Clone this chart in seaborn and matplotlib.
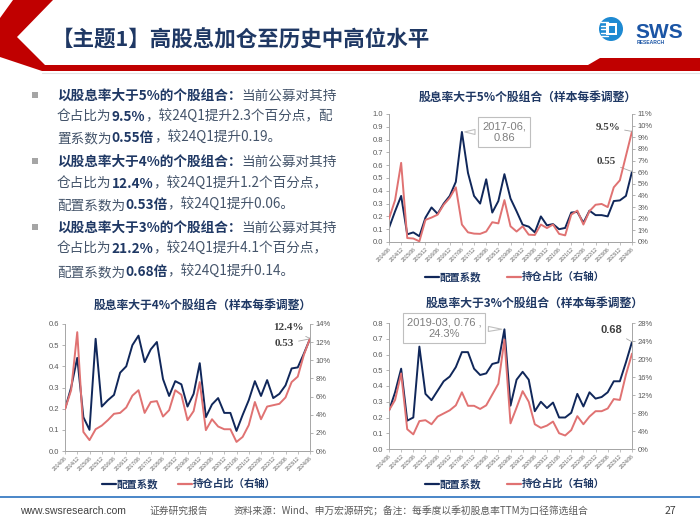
import numpy as np
import matplotlib
matplotlib.use("Agg")
import matplotlib.pyplot as plt
import seaborn as sns
from matplotlib.patches import Polygon, Rectangle, Circle
from matplotlib.ticker import FuncFormatter

sns.set_style("ticks")
CJK = ['Noto Sans CJK SC', 'DejaVu Sans']
plt.rcParams['font.family'] = CJK
plt.rcParams['axes.unicode_minus'] = False

# ---------------- data ----------------
tick_labels = ["2014/06", "2014/12", "2015/06", "2015/12", "2016/06", "2016/12",
               "2017/06", "2017/12", "2018/06", "2018/12", "2019/06", "2019/12",
               "2020/06", "2020/12", "2021/06", "2021/12", "2022/06", "2022/12",
               "2023/06", "2023/12", "2024/06"]

# dividend yield > 5% portfolio
coef5 = [0.11, 0.24, 0.36, 0.06, 0.075, 0.045, 0.19, 0.27, 0.22, 0.30, 0.36, 0.47, 0.86,
         0.54, 0.36, 0.30, 0.49, 0.23, 0.32, 0.53, 0.34, 0.24, 0.135, 0.12, 0.075, 0.20,
         0.13, 0.14, 0.10, 0.11, 0.23, 0.235, 0.15, 0.245, 0.21, 0.21, 0.20, 0.32, 0.325,
         0.36, 0.55]
share5 = [2.0, 3.6, 6.8, 0.34, 0.3, 0.06, 1.9, 2.1, 2.35, 3.2, 3.8, 4.7, 1.5, 0.83, 0.72,
          0.7, 0.9, 1.7, 1.6, 3.6, 1.35, 0.9, 1.35, 0.63, 0.6, 1.5, 1.2, 1.5, 0.7, 0.57,
          2.35, 2.7, 1.5, 2.65, 3.2, 3.27, 3.0, 4.7, 5.3, 7.4, 9.5]
# dividend yield > 4% portfolio
coef4 = [0.198, 0.30, 0.44, 0.16, 0.10, 0.53, 0.21, 0.24, 0.265, 0.37, 0.40, 0.50, 0.545,
         0.42, 0.48, 0.515, 0.34, 0.26, 0.33, 0.315, 0.21, 0.27, 0.415, 0.16, 0.22, 0.25,
         0.18, 0.18, 0.095, 0.17, 0.24, 0.33, 0.26, 0.335, 0.25, 0.27, 0.31, 0.39, 0.395,
         0.46, 0.53]
share4 = [4.6, 6.7, 13.1, 2.1, 1.2, 2.4, 2.8, 3.4, 4.1, 4.2, 4.8, 6.1, 6.7, 4.2, 5.4, 5.5,
          3.8, 4.5, 6.7, 6.2, 3.4, 4.4, 7.6, 2.3, 3.5, 2.7, 2.4, 2.4, 1.0, 1.55, 2.85, 5.4,
          3.5, 4.9, 5.05, 5.2, 5.9, 7.6, 8.2, 10.6, 12.4]
# dividend yield > 3% portfolio
coef3 = [0.243, 0.36, 0.51, 0.18, 0.20, 0.65, 0.35, 0.31, 0.37, 0.43, 0.46, 0.52, 0.615,
         0.615, 0.51, 0.47, 0.48, 0.54, 0.55, 0.76, 0.275, 0.44, 0.49, 0.44, 0.24, 0.30,
         0.26, 0.295, 0.20, 0.20, 0.23, 0.35, 0.27, 0.36, 0.32, 0.33, 0.36, 0.43, 0.43,
         0.55, 0.68]
share3 = [8.6, 10.9, 16.8, 4.4, 3.25, 6.2, 6.4, 5.5, 7.2, 7.9, 8.6, 9.7, 12.6, 9.6, 9.6,
          8.9, 9.7, 12.1, 14.5, 24.3, 5.7, 9.2, 12.85, 10.5, 5.5, 4.7, 5.2, 6.1, 3.5, 3.0,
          4.2, 7.3, 5.5, 7.2, 8.4, 8.4, 9.0, 11.1, 10.9, 16.5, 21.2]

title_text = "【主题1】高股息加仓至历史中高位水平"
chart_titles = ["股息率大于5%个股组合（样本每季调整）",
                "股息率大于4%个股组合（样本每季调整）",
                "股息率大于3%个股组合（样本每季调整）"]
legend_labels = ["配置系数", "持仓占比（右轴）"]

bullets = [
    [[("以股息率大于5%的个股组合：", True), ("当前公募对其持", False)],
     [("仓占比为", False), ("9.5%", True), ("，较24Q1提升2.3个百分点，配", False)],
     [("置系数为", False), ("0.55倍", True), ("，较24Q1提升0.19。", False)]],
    [[("以股息率大于4%的个股组合：", True), ("当前公募对其持", False)],
     [("仓占比为", False), ("12.4%", True), ("，较24Q1提升1.2个百分点，", False)],
     [("配置系数为", False), ("0.53倍", True), ("，较24Q1提升0.06。", False)]],
    [[("以股息率大于3%的个股组合：", True), ("当前公募对其持", False)],
     [("仓占比为", False), ("21.2%", True), ("，较24Q1提升4.1个百分点，", False)],
     [("配置系数为", False), ("0.68倍", True), ("，较24Q1提升0.14。", False)]],
]
footer_site = "www.swsresearch.com"
footer_kind = "证券研究报告"
footer_src = "资料来源：Wind、申万宏源研究；备注：每季度以季初股息率TTM为口径筛选组合"
page_no = "27"

# ---------------- styles ----------------
W, H = 700, 525
NAVY = '#1F3864'
BODY = '#44546A'
BLUE = '#10275A'
RED = '#E07272'
TICK = '#595959'
SPINE = '#A6A6A6'
DARKRED = '#C00000'

fig = plt.figure(figsize=(7, 5.25), dpi=100)
fig.patch.set_facecolor('white')
bg = fig.add_axes([0, 0, 1, 1], zorder=-10)
bg.set_xlim(0, W)
bg.set_ylim(H, 0)
bg.axis('off')

# header band
bg.add_patch(Polygon([(13, 0), (53, 0), (17, 37), (45, 65), (588, 65), (600, 58),
                      (700, 58), (700, 71), (42, 71), (0, 57), (0, 18)],
                     closed=True, fc=DARKRED, ec='none'))
bg.plot([42, 700], [73, 73], color='#E3E3E3', lw=0.8)
bg.text(52, 47, title_text, fontsize=15.5, fontweight='bold', color=NAVY,
        ha='left', va='baseline', family=CJK)

# logo
bg.add_patch(Circle((611, 29), 12, fc='#1E8AD2', ec='none'))
for yy in (22, 25.5, 29, 32.5, 36):
    bg.plot([601, 608], [yy, yy], color='white', lw=1.0)
bg.add_patch(Rectangle((606, 23), 11, 12, fc='white', ec='none'))
bg.add_patch(Rectangle((608.5, 25.5), 6, 7, fc='#1E8AD2', ec='none'))
bg.text(635, 38, "SWS", fontsize=15, fontweight='bold', color='#1B55A5',
        family=['Liberation Sans'], ha='left', va='baseline')
bg.text(637, 44.5, "RESEARCH", fontsize=3.6, fontweight='bold', color='#1B55A5',
        family=['Liberation Sans'], ha='left', va='baseline')

# bullet text
renderer = fig.canvas.get_renderer()
line_ys = [[95, 116, 137], [161, 183, 204], [227, 248, 271]]
for para, ys in zip(bullets, line_ys):
    bg.add_patch(Rectangle((32, ys[0] - 3), 6, 6, fc='#A5A5A5', ec='none'))
    for parts, yc in zip(para, ys):
        x = 57
        for txt, bold in parts:
            t = bg.text(x, yc + 5, txt, fontsize=9.8,
                        fontweight='bold' if bold else 'normal',
                        color=NAVY if bold else BODY, ha='left', va='baseline',
                        family=CJK)
            x += t.get_window_extent(renderer=renderer).width

# footer
bg.plot([0, 700], [497, 497], color='#3C7DC4', lw=1.3)
bg.text(20, 511, footer_site, fontsize=7.5, color='#404040', va='center', ha='left',
        family=['Liberation Sans', 'DejaVu Sans'])
bg.text(150, 511, footer_kind, fontsize=7, color='#595959', va='center', ha='left', family=CJK)
bg.text(234, 511, footer_src, fontsize=7, color='#595959', va='center', ha='left', family=CJK)
bg.text(665, 511, page_no, fontsize=7.5, color='#404040', va='center', ha='left', family=CJK)


def draw_chart(box, coef, share, lmax, rmax, rstep, title, title_xy, leg_x, leg_y):
    x0, y0, x1, y1 = box
    ax = fig.add_axes([x0 / W, 1 - y1 / H, (x1 - x0) / W, (y1 - y0) / H])
    q = np.arange(len(coef))
    sns.lineplot(x=q, y=coef, ax=ax, color=BLUE, linewidth=1.4)
    axr = ax.twinx()
    sns.lineplot(x=q, y=share, ax=axr, color=RED, linewidth=1.4)
    ax.set_xlim(0, len(coef) - 1)
    ax.set_ylim(0, lmax)
    axr.set_ylim(0, rmax)
    ax.set_yticks(np.round(np.arange(0, lmax + 1e-9, 0.1), 1))
    ax.yaxis.set_major_formatter(FuncFormatter(lambda v, p: f"{v:.1f}"))
    axr.set_yticks(np.arange(0, rmax + 1e-9, rstep))
    axr.yaxis.set_major_formatter(FuncFormatter(lambda v, p: f"{v:.0f}%"))
    ax.set_xticks(q[::2])
    ax.set_xticklabels(tick_labels, rotation=45, ha='right', rotation_mode='anchor')
    for a in (ax, axr):
        a.set_xlabel("")
        a.set_ylabel("")
        a.spines['top'].set_visible(False)
        for s in ('left', 'right', 'bottom'):
            a.spines[s].set_color(SPINE)
            a.spines[s].set_linewidth(0.7)
        a.tick_params(axis='y', labelsize=5.5, labelcolor=TICK, color=SPINE,
                      length=2, width=0.6, pad=2)
        for lab in a.get_yticklabels():
            lab.set_family(['Liberation Sans', 'DejaVu Sans'])
    ax.spines['right'].set_visible(False)
    axr.spines['left'].set_visible(False)
    ax.tick_params(axis='x', labelsize=3.5, labelcolor=TICK, color=SPINE,
                   length=2, width=0.5, pad=1)
    for lab in ax.get_xticklabels():
        lab.set_family(['Liberation Sans', 'DejaVu Sans'])
    ax.grid(False)
    axr.grid(False)
    bg.text(title_xy[0], title_xy[1], title, fontsize=8.5, fontweight='bold', color=NAVY,
            ha='center', va='center', family=CJK)
    bx, rx = leg_x
    bg.plot([bx, bx + 14], [leg_y, leg_y], color=BLUE, lw=1.6)
    bg.text(bx + 15, leg_y, legend_labels[0], fontsize=7.5, fontweight='bold', color=NAVY,
            ha='left', va='center', family=CJK)
    bg.plot([rx, rx + 14], [leg_y, leg_y], color=RED, lw=1.6)
    bg.text(rx + 15, leg_y, legend_labels[1], fontsize=7.5, fontweight='bold', color=NAVY,
            ha='left', va='center', family=CJK)
    return ax, axr


def end_label(ax, xy, text, pos, serif=True, bold=True):
    fam = ['Liberation Serif'] if serif else ['Liberation Sans']
    ax.annotate(text, xy=xy, xycoords='data', xytext=pos, textcoords=bg.transData,
                fontsize=8, fontweight='bold' if bold else 'normal', color='#404040',
                family=fam, ha='right', va='center', annotation_clip=False,
                arrowprops=dict(arrowstyle='-', color='#A6A6A6', lw=0.6,
                                shrinkA=1, shrinkB=0))


def callout(ax, xy, text, pos):
    ax.annotate(text, xy=xy, xycoords='data', xytext=pos, textcoords=bg.transData,
                fontsize=8, color='#7F7F7F', family=['Liberation Sans'],
                ha='center', va='center', linespacing=1.2, annotation_clip=False,
                bbox=dict(boxstyle='square,pad=0.35', fc='white', ec='#BFBFBF', lw=0.8),
                arrowprops=dict(arrowstyle='wedge,tail_width=0.45,shrink_factor=0.5',
                                fc='white', ec='#BFBFBF', lw=0.8))


# chart 1 (>5%)
ax1, ax1r = draw_chart((389, 114, 632, 242), coef5, share5, 1.0, 11, 1, chart_titles[0],
                       (528, 97), (425, 507), 277)
callout(ax1, (12, coef5[12]), "2017-06,\n0.86", (504, 132))
end_label(ax1r, (40, share5[-1]), "9.5%", (620, 127))
end_label(ax1, (40, coef5[-1]), "0.55", (616, 162))

# chart 2 (>4%)
ax2, ax2r = draw_chart((65, 324, 310, 451), coef4, share4, 0.6, 14, 2, chart_titles[1],
                       (203, 305), (102, 178), 484)
end_label(ax2r, (40, share4[-1]), "12.4%", (304, 328))
end_label(ax2, (40, coef4[-1]), "0.53", (294, 344))

# chart 3 (>3%)
ax3, ax3r = draw_chart((389, 323, 632, 449), coef3, share3, 0.8, 28, 4, chart_titles[2],
                       (535, 303), (425, 507), 484)
callout(ax3, (19, coef3[19]), "2019-03, 0.76 ,\n24.3%", (444, 328))
end_label(ax3, (40, coef3[-1]), "0.68", (622, 330), serif=False, bold=True)
bg.text(623, 353, "21.2%", fontsize=8, color='#404040', ha='right', va='center',
        family=['Liberation Sans'])

fig.savefig("out.png", dpi=100)
